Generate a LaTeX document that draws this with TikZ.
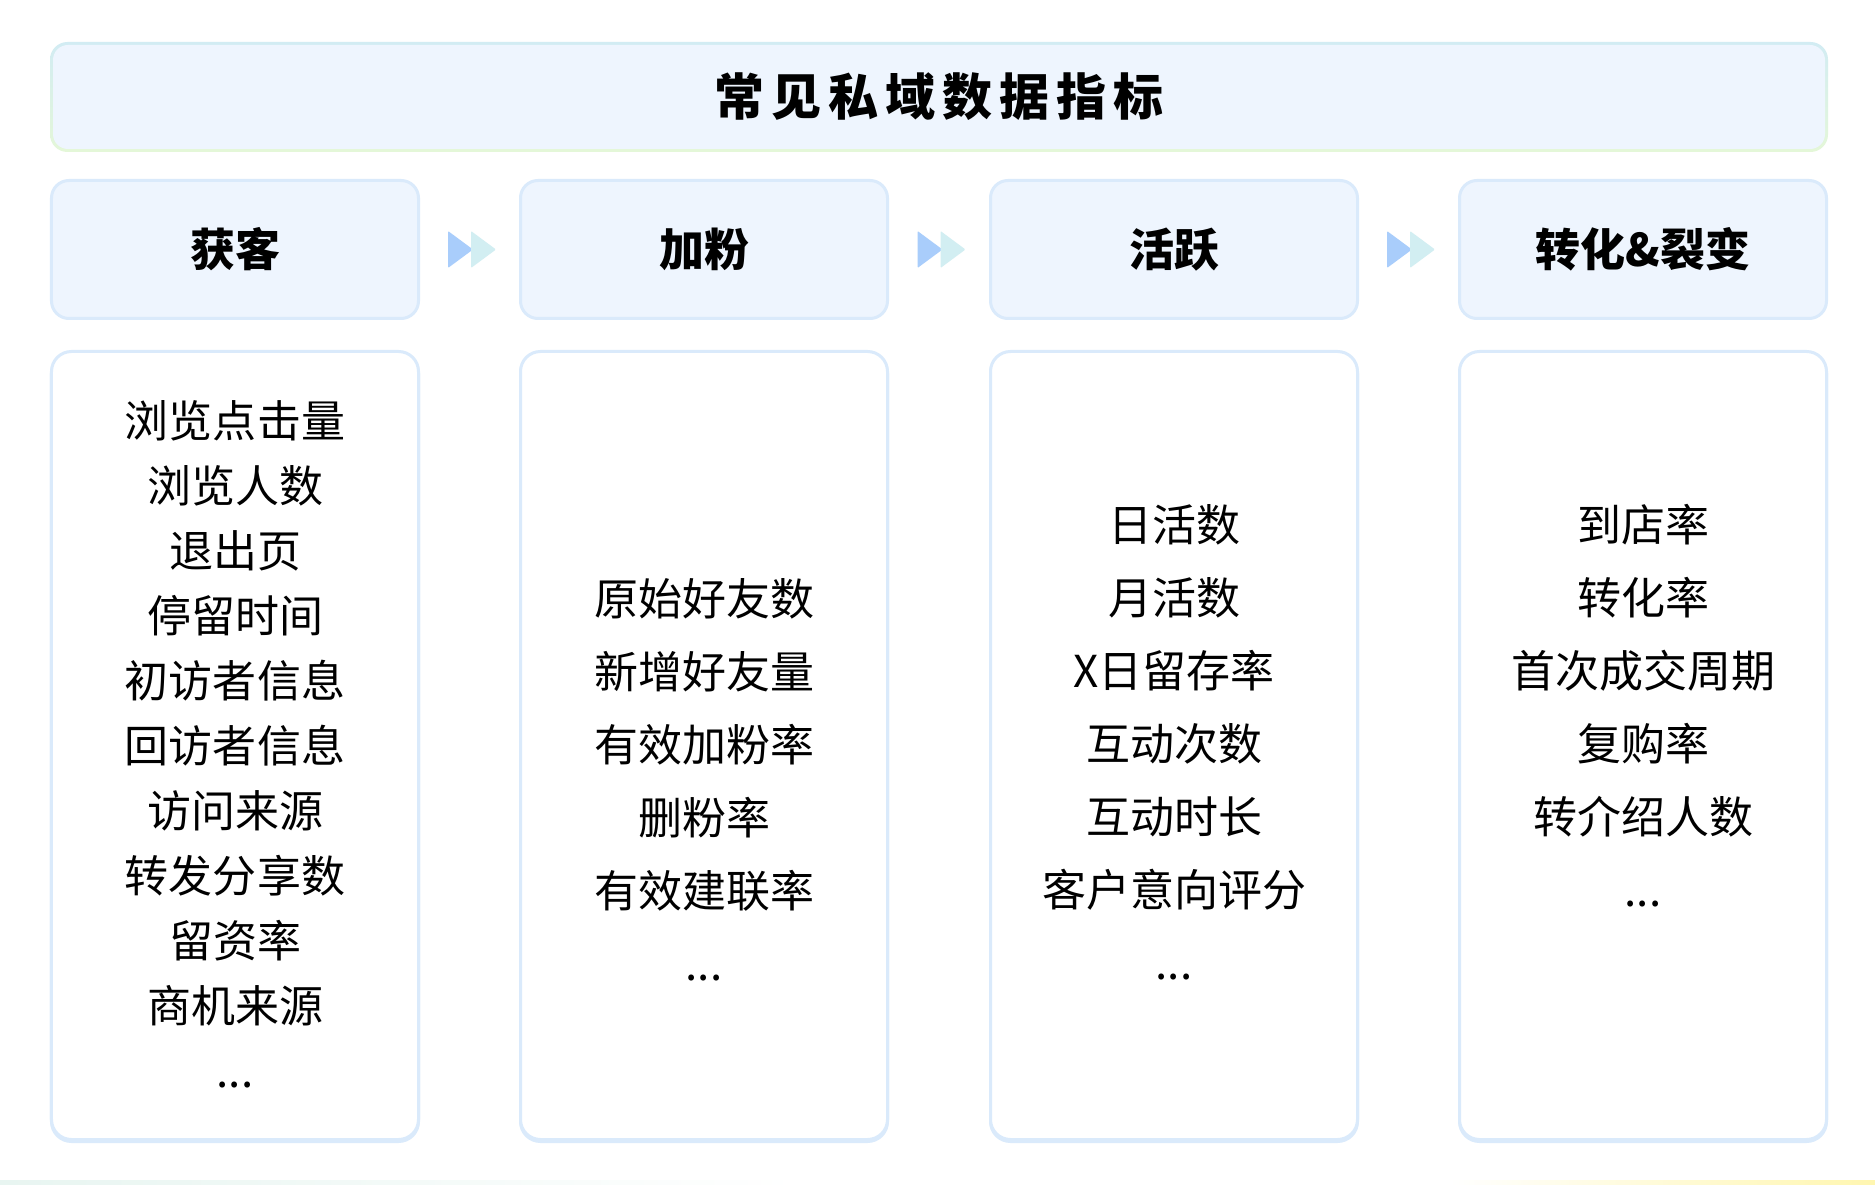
\documentclass[tikz,border=0pt]{standalone}
\usepackage{fontspec}
\setmainfont{Noto Sans CJK SC}
\usetikzlibrary{calc}
\definecolor{hfill}{HTML}{EEF5FE}
\definecolor{bline}{HTML}{DAEAFB}
\definecolor{arrA}{HTML}{A9CDFB}
\definecolor{arrB}{HTML}{D2EEF2}
\definecolor{tTop}{HTML}{D2ECF3}
\definecolor{tBot}{HTML}{E4F7D8}
\definecolor{stripG}{HTML}{E8F5F1}
\definecolor{stripY}{HTML}{FFF6B0}
\newcommand{\mydots}{.\kern0pt.\kern0pt.}
\begin{document}
\begin{tikzpicture}[x=0.4pt,y=-0.4pt,
  headbox/.style={draw=bline, line width=1.2pt, fill=hfill, rounded corners=7pt,
    minimum width=146.8pt, minimum height=55.2pt, inner sep=0pt,
    text height=16pt, text depth=2.2pt,
    font=\fontsize{18pt}{20pt}\selectfont\bfseries},
  contentbox/.style={draw=bline, line width=1.2pt, fill=white, rounded corners=8pt,
    minimum width=146.8pt, minimum height=315.2pt, inner sep=0pt,
    preaction={draw=bline, line width=1.2pt, transform canvas={yshift=-0.8pt}}},
  item/.style={inner sep=0pt, text height=15.5pt, text depth=2.1pt,
    font=\fontsize{17.6pt}{20pt}\selectfont},
  titletext/.style={inner sep=0pt, text height=17.6pt, text depth=2.4pt,
    font=\fontsize{20pt}{22pt}\selectfont\bfseries},
  arrowA/.style={fill=arrA, rounded corners=0.4pt},
  arrowB/.style={fill=arrB, rounded corners=0.4pt}
]
\useasboundingbox (0,0) rectangle (1875,1185);
\fill[white] (0,0) rectangle (1875,1185);

% bottom faint strip
\shade[left color=stripG, right color=white] (0,1180) rectangle (800,1185);
\shade[left color=white, right color=stripY] (1450,1180) rectangle (1875,1185);

% title box
\shade[top color=tTop, bottom color=tBot, rounded corners=7pt] (50,42) rectangle (1828,152);
\fill[hfill, rounded corners=6pt] (53,45) rectangle (1825,149);
\node[titletext] (title) at (939,97) {常\kern2.8pt 见\kern2.8pt 私\kern2.8pt 域\kern2.8pt 数\kern2.8pt 据\kern2.8pt 指\kern2.8pt 标};

% header boxes
\node[headbox] (h1) at (235,249.5) {获客};
\node[headbox] (h2) at (704,249.5) {加粉};
\node[headbox] (h3) at (1174,249.5) {活跃};
\node[headbox] (h4) at (1643,249.5) {转化\&裂变};

% arrows between headers
\foreach \a/\b/\n in {h1/h2/1, h2/h3/2, h3/h4/3} {
  \coordinate (ar\n) at ($(\a.east)!0.5!(\b.west)$);
  \fill[arrowA] ($(ar\n)+(-21.5,-18.5)$) -- ($(ar\n)+(-21.5,18.5)$) -- ($(ar\n)+(3.5,0)$) -- cycle;
  \fill[arrowB] ($(ar\n)+(1.5,-18.5)$) -- ($(ar\n)+(1.5,18.5)$) -- ($(ar\n)+(26.5,0)$) -- cycle;
}

% content boxes
\node[contentbox] (c1) at (235,745.5) {};
\node[contentbox] (c2) at (704,745.5) {};
\node[contentbox] (c3) at (1174,745.5) {};
\node[contentbox] (c4) at (1643,745.5) {};

% column items
\foreach \t [count=\i] in {浏览点击量,浏览人数,退出页,停留时间,初访者信息,回访者信息,访问来源,转发分享数,留资率,商机来源,\mydots}
  \node[item] (c1l\i) at (235,{421+65*(\i-1)}) {\t};
\foreach \t [count=\i] in {原始好友数,新增好友量,有效加粉率,删粉率,有效建联率,\mydots}
  \node[item] (c2l\i) at (704,{599+73*(\i-1)}) {\t};
\foreach \t [count=\i] in {日活数,月活数,X日留存率,互动次数,互动时长,客户意向评分,\mydots}
  \node[item] (c3l\i) at (1174,{525+73*(\i-1)}) {\t};
\foreach \t [count=\i] in {到店率,转化率,首次成交周期,复购率,转介绍人数,\mydots}
  \node[item] (c4l\i) at (1643,{525+73*(\i-1)}) {\t};
\end{tikzpicture}
\end{document}
